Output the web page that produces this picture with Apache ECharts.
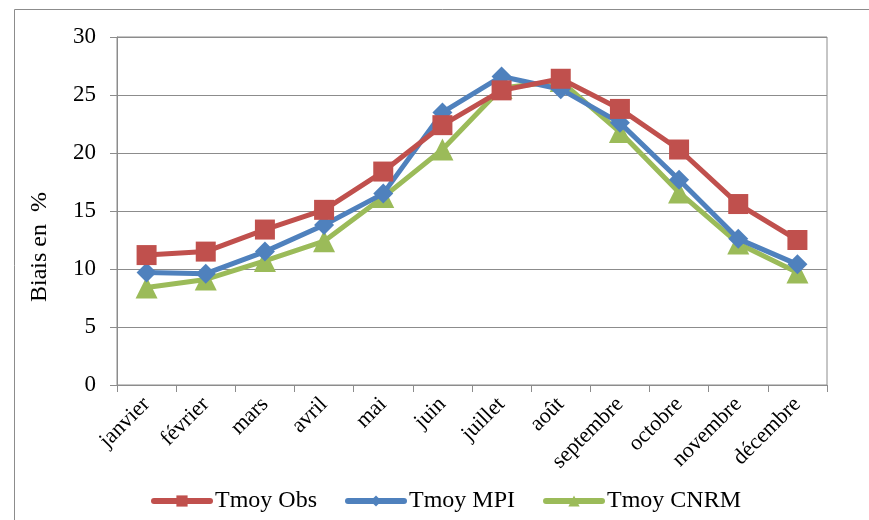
<!DOCTYPE html>
<html><head><meta charset="utf-8">
<script src="https://cdn.jsdelivr.net/npm/echarts@6/dist/echarts.min.js"></script>
<style>html,body{margin:0;padding:0;background:#fff}#c{width:869px;height:520px}</style>
</head><body><div id="c"></div>
<script>
const categories = ['janvier','février','mars','avril','mai','juin','juillet','août','septembre','octobre','novembre','décembre'];
const tmoyObs  = [11.2, 11.5, 13.4, 15.1, 18.4, 22.4, 25.4, 26.4, 23.8, 20.3, 15.6, 12.5];
const tmoyMPI  = [9.7, 9.6, 11.5, 13.8, 16.5, 23.5, 26.6, 25.5, 22.6, 17.7, 12.6, 10.4];
const tmoyCNRM = [8.4, 9.1, 10.7, 12.4, 16.2, 20.3, 25.6, 26.2, 21.8, 16.6, 12.2, 9.7];
const yTicks = [0, 5, 10, 15, 20, 25, 30];
const seriesNames = ['Tmoy Obs', 'Tmoy MPI', 'Tmoy CNRM'];
const yTitle = 'Biais en  %';

const font = 'Liberation Serif, Times New Roman, serif';
const chart = echarts.init(document.getElementById('c'), null, {renderer: 'canvas'});
const colors = ['#C0504D', '#4F81BD', '#9BBB59'];
const symbols = ['rect', 'diamond', 'triangle'];
const sizes = [20, 20, 22];
const datas = [tmoyObs, tmoyMPI, tmoyCNRM];

chart.setOption({
  animation: false,
  color: colors,
  graphic: [{
    type: 'rect', left: 12, top: 7, shape: {width: 880, height: 530},
    style: {fill: 'none', stroke: '#8c8c8c', lineWidth: 1}, silent: true
  }, {
    type: 'text', x: 40, y: 247, rotation: Math.PI / 2,
    style: {text: yTitle, fontFamily: font, fontSize: 24, fill: '#000', align: 'center', verticalAlign: 'middle'},
    silent: true
  }],
  grid: {left: 117, right: 42, top: 37, bottom: 135, show: true, borderColor: '#8c8c8c', borderWidth: 1},
  legend: {
    top: 484, left: 146, itemWidth: 56, itemHeight: 14, itemGap: 28,
    textStyle: {fontFamily: font, fontSize: 24, color: '#000'},
    lineStyle: {width: 6, cap: 'round'},
    data: seriesNames
  },
  xAxis: {
    type: 'category', data: categories, boundaryGap: true,
    axisLine: {lineStyle: {color: '#8c8c8c', width: 1}},
    axisTick: {show: true, alignWithLabel: false, length: 7, lineStyle: {color: '#8c8c8c'}},
    axisLabel: {rotate: 45, interval: 0, fontFamily: font, fontSize: 22, color: '#000', margin: 16}
  },
  yAxis: {
    type: 'value', min: 0, max: 30, interval: 5,
    axisLine: {show: true, lineStyle: {color: '#8c8c8c', width: 1}},
    axisTick: {show: true, length: 7, inside: false, lineStyle: {color: '#8c8c8c'}},
    splitLine: {lineStyle: {color: '#8c8c8c', width: 1}},
    axisLabel: {fontFamily: font, fontSize: 23, color: '#000', margin: 21,
      formatter: v => yTicks.includes(v) ? String(v) : ''}
  },
  series: seriesNames.map((n, i) => ({
    name: n, type: 'line', data: datas[i],
    symbol: symbols[i], symbolSize: sizes[i], showAllSymbol: true,
    lineStyle: {width: 5, color: colors[i], cap: 'round'},
    itemStyle: {color: colors[i]},
    z: 5 - i
  }))
});
</script></body></html>
